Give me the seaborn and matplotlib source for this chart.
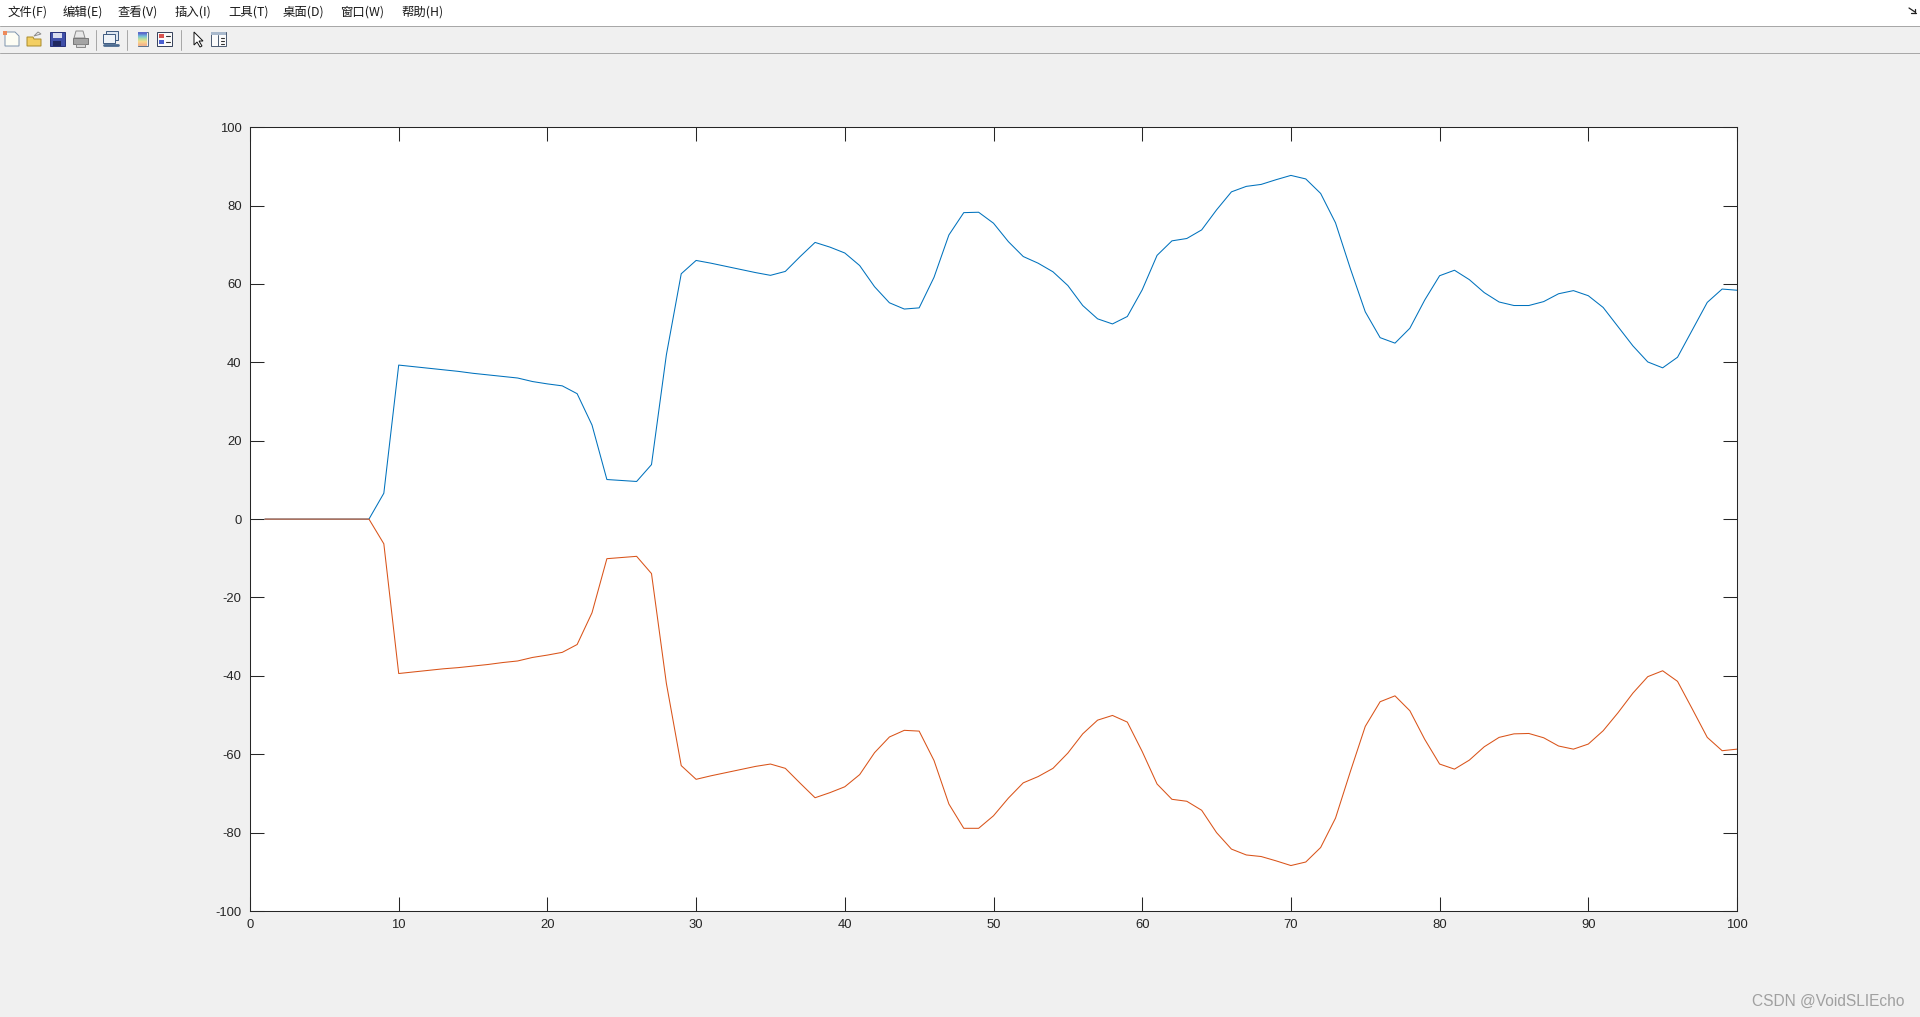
import numpy as np
import pandas as pd
import matplotlib
matplotlib.use("Agg")
import matplotlib.pyplot as plt
from matplotlib.patches import Rectangle, Polygon
import seaborn as sns

x_values = list(range(1, 101))
upper_series = [
    0, 0, 0, 0, 0, 0, 0, 0, 6.6, 39.3,
    38.9, 38.5, 38.1, 37.7, 37.2, 36.8, 36.4, 36.0, 35.1, 34.5,
    34.0, 32.0, 24.0, 10.1, 9.85, 9.6, 13.9, 41.9, 62.6, 66.0,
    65.3, 64.5, 63.7, 62.9, 62.2, 63.2, 67.0, 70.6, 69.4, 67.9,
    64.7, 59.3, 55.2, 53.6, 53.9, 61.7, 72.5, 78.2, 78.3, 75.5,
    70.8, 67.0, 65.3, 63.1, 59.6, 54.5, 51.1, 49.8, 51.7, 58.5,
    67.3, 71.0, 71.6, 73.8, 78.9, 83.5, 84.9, 85.4, 86.6, 87.7,
    86.8, 83.1, 75.6, 63.9, 52.9, 46.3, 44.9, 48.7, 55.9, 62.1,
    63.5, 61.1, 57.8, 55.4, 54.5, 54.5, 55.5, 57.5, 58.3, 57.0,
    54.0, 49.1, 44.2, 40.1, 38.6, 41.3, 48.3, 55.3, 58.7, 58.4,
]
lower_series = [
    0, 0, 0, 0, 0, 0, 0, 0, -6.3, -39.4,
    -39.0, -38.6, -38.2, -37.9, -37.5, -37.1, -36.6, -36.2, -35.3, -34.7,
    -34.0, -32.0, -23.9, -10.1, -9.8, -9.5, -13.9, -41.9, -62.9, -66.4,
    -65.5, -64.7, -63.9, -63.1, -62.5, -63.6, -67.4, -71.1, -69.8, -68.3,
    -65.2, -59.6, -55.6, -53.9, -54.1, -61.6, -72.7, -78.9, -78.9, -75.7,
    -71.2, -67.3, -65.7, -63.6, -59.7, -54.8, -51.3, -50.1, -51.8, -59.3,
    -67.6, -71.5, -72.0, -74.3, -80.0, -84.2, -85.7, -86.1, -87.2, -88.4,
    -87.5, -83.8, -76.3, -64.4, -52.9, -46.6, -45.1, -48.9, -56.2, -62.5,
    -63.8, -61.5, -58.1, -55.7, -54.8, -54.7, -55.8, -57.9, -58.7, -57.4,
    -54.0, -49.4, -44.4, -40.2, -38.7, -41.4, -48.5, -55.7, -59.1, -58.7,
]
x_ticks = list(range(0, 101, 10))
y_ticks = list(range(-100, 101, 20))
menu_labels = ["文件(F)", "编辑(E)", "查看(V)", "插入(I)", "工具(T)", "桌面(D)", "窗口(W)", "帮助(H)"]
watermark = "CSDN @VoidSLIEcho"

sns.set_theme(style="ticks")
plt.rcParams["font.family"] = ["Liberation Sans", "Noto Sans CJK SC", "DejaVu Sans"]
plt.rcParams["axes.unicode_minus"] = False

W, H = 1920, 1017
BG = "#f0f0f0"
INK = "#262626"
fig = plt.figure(figsize=(W / 100, H / 100), dpi=100, facecolor=BG)

# window chrome, in pixel coordinates
chrome = fig.add_axes([0, 0, 1, 1], zorder=0)
chrome.set_xlim(0, W)
chrome.set_ylim(H, 0)
chrome.axis("off")
chrome.add_patch(Rectangle((0, 0), W, 26, fc="white", ec="none"))
chrome.plot([0, W], [26, 26], color="#a8a8a8", lw=0.72)
chrome.plot([0, W], [53, 53], color="#a8a8a8", lw=0.72)
for sx in (95.5, 126.5, 180.5):
    chrome.plot([sx, sx], [30, 50], color="#a8a8a8", lw=0.72)

menu_x = [8, 63, 118, 175, 228, 283, 340, 401]
for mx, label in zip(menu_x, menu_labels):
    chrome.text(mx, 12.5, label, fontsize=8.9, color="#1a1a1a", va="center", ha="left",
                family=["Noto Sans CJK SC", "DejaVu Sans"])

def rect(x, y, w, h, fc, ec="none", lw=0.7):
    chrome.add_patch(Rectangle((x, y), w, h, fc=fc, ec=ec, lw=lw))

def poly(points, fc, ec="none", lw=0.7):
    chrome.add_patch(Polygon(points, closed=True, fc=fc, ec=ec, lw=lw))

# new file
poly([(5, 32), (15, 32), (19, 36), (19, 46), (5, 46)], "#fdfdf4", "#7c93ad")
rect(3, 31, 4, 4, "#ee8a5a")
# open folder
poly([(27, 37), (33, 37), (34, 39), (41, 39), (41, 46), (27, 46)], "#f3cf63", "#a88a2a")
poly([(34, 36), (38, 32), (41, 34)], "none", "#8c8c8c")
# save
rect(50, 32, 15, 14, "#3f4fa8", "#26307a")
rect(53, 33, 9, 5, "#d8dcef")
rect(53, 41, 8, 5, "#20285f")
# print
poly([(76, 31), (83, 31), (85, 38), (74, 38)], "#e8e8e8", "#8c8c8c")
rect(73, 38, 15, 6, "#a4a4a4", "#777777")
rect(76, 44, 9, 3, "#d8d8d8", "#888888")
# linked plot
rect(106, 31, 12, 9, "#dde6f0", "#3d5a80")
rect(103, 34, 12, 9, "#eef3f8", "#3d5a80")
chrome.plot([104, 118], [45, 45], color="#4a6a90", lw=2.0, solid_capstyle="round")
# colorbar
chrome.imshow(np.array([[[0.36, 0.42, 0.80]], [[0.45, 0.75, 0.85]], [[0.72, 0.88, 0.62]],
                        [[0.98, 0.85, 0.55]], [[0.95, 0.72, 0.55]]]),
              extent=(138, 147, 46, 32), aspect="auto", zorder=2, interpolation="bilinear")
rect(137.5, 32, 10, 14, "none", "#5a6f8a")
chrome.set_xlim(0, W)
chrome.set_ylim(H, 0)
# legend
rect(157, 32, 15, 14, "#fbfbfb", "#34405a")
rect(159, 34, 5, 4, "#d9534f")
rect(159, 40, 5, 4, "#4a5fd0")
chrome.plot([166, 170], [36, 36], color="#333333", lw=0.8)
chrome.plot([166, 170], [42, 42], color="#333333", lw=0.8)
# arrow
poly([(194, 32), (194, 45), (197, 42), (200, 47), (202, 46), (199, 41), (203, 41)], "white", "#111111")
# property panel
rect(211, 32, 15, 14, "#fbfbfb", "#4a5a70")
rect(211, 32, 15, 3, "#a9b9cc")
chrome.plot([217.5, 217.5], [35, 46], color="#4a5a70", lw=0.7)
for py in (38, 41, 44):
    chrome.plot([221, 224], [py, py], color="#333333", lw=0.8)
# corner pin
chrome.plot([1909, 1915], [8, 12], color="#222222", lw=0.9)
chrome.plot([1915, 1915], [9, 13], color="#222222", lw=0.9)
chrome.plot([1911, 1916], [13, 13], color="#222222", lw=0.9)

# plot axes
left, right, top, bottom = 250, 1737, 127.2, 911
ax = fig.add_axes([left / W, 1 - bottom / H, (right - left) / W, (bottom - top) / H], zorder=1)
ax.set_facecolor("white")

frame = pd.DataFrame({"x": x_values, "upper": upper_series, "lower": lower_series})
sns.lineplot(data=frame, x="x", y="upper", color="#0072BD", lw=0.75, ax=ax, estimator=None)
sns.lineplot(data=frame, x="x", y="lower", color="#D95319", lw=0.75, ax=ax, estimator=None)

ax.set_xlim(0, 100)
ax.set_ylim(-100, 100)
ax.set_xticks(x_ticks)
ax.set_yticks(y_ticks)
ax.set_xlabel("")
ax.set_ylabel("")
ax.tick_params(axis="both", direction="in", top=True, right=True, length=10, width=0.75,
               color=INK, labelcolor=INK, labelsize=9.4, pad=6)
for spine in ax.spines.values():
    spine.set_visible(True)
    spine.set_color(INK)
    spine.set_linewidth(0.75)

chrome.text(1905, 1001, watermark, fontsize=11.2, color="#a0a0a0", ha="right", va="center")

fig.savefig("out.png", dpi=100, facecolor=BG)
